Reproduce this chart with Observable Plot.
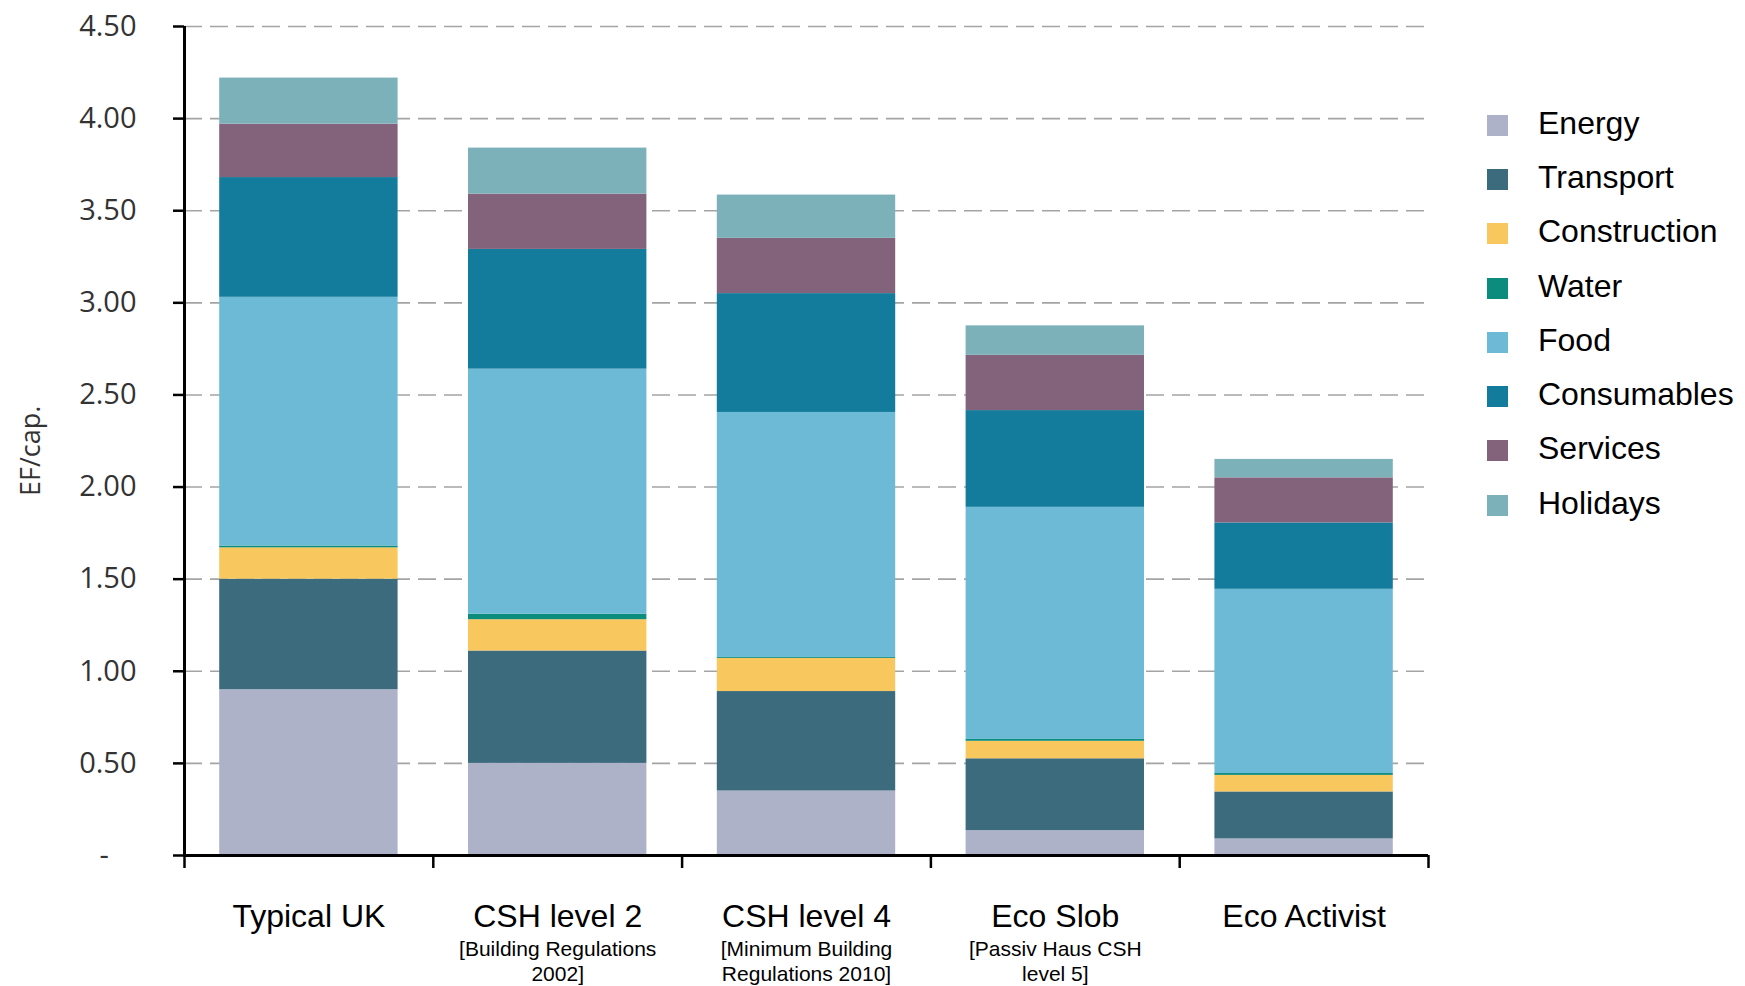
<!DOCTYPE html>
<html>
<head>
<meta charset="utf-8">
<script src="https://cdn.jsdelivr.net/npm/d3@7"></script>
<script src="https://cdn.jsdelivr.net/npm/@observablehq/plot@0.6"></script>
<style>
  html, body { margin: 0; padding: 0; background: white; }
  #wrap { position: relative; width: 1745px; height: 986px; }
  #legend { position: absolute; left: 1487px; top: 96px; font-family: "Liberation Sans", Arial, sans-serif; font-size: 32px; color: #000; }
  .row { display: flex; align-items: center; height: 54.3px; }
  .sw { width: 21px; height: 21px; margin-right: 30px; position: relative; top: 2px; }
</style>
</head>
<body>
<div id="wrap"><div id="legend"></div></div>
<script>
const categories = ["Typical UK", "CSH level 2", "CSH level 4", "Eco Slob", "Eco Activist"];
const subLabels = ["", "[Building Regulations\n2002]", "[Minimum Building\nRegulations 2010]", "[Passiv Haus CSH\nlevel 5]", ""];
const series = ["Energy", "Transport", "Construction", "Water", "Food", "Consumables", "Services", "Holidays"];
const colors = ["#adb2c9", "#3b6b7c", "#f8c85f", "#0c8c7c", "#6cbad6", "#137b9b", "#83637b", "#7db1ba"];

const energy       = [0.90, 0.50, 0.35, 0.135, 0.09];
const transport    = [0.60, 0.61, 0.54, 0.39, 0.255];
const construction = [0.17, 0.17, 0.18, 0.095, 0.09];
const water        = [0.01, 0.03, 0.005, 0.01, 0.01];
const food         = [1.35, 1.33, 1.33, 1.26, 1.00];
const consumables  = [0.65, 0.65, 0.645, 0.525, 0.36];
const services     = [0.29, 0.30, 0.30, 0.30, 0.245];
const holidays     = [0.25, 0.25, 0.235, 0.16, 0.10];

const yTicks = [0, 0.5, 1, 1.5, 2, 2.5, 3, 3.5, 4, 4.5];
const yLabel = "EF/cap.";

const valuesBySeries = [energy, transport, construction, water, food, consumables, services, holidays];

// Stack rows (bottom to top in series order)
const rows = [];
categories.forEach((cat, i) => {
  let base = 0;
  series.forEach((s, j) => {
    const v = valuesBySeries[j][i];
    rows.push({cat, i, series: s, y1: base, y2: base + v});
    base += v;
  });
});

const halfBar = 0.3585; // bar half-width in category units
const boundaries = d3.range(categories.length + 1);

const plot = Plot.plot({
  width: 1745,
  height: 986,
  marginTop: 26,
  marginBottom: 131,
  marginLeft: 184,
  marginRight: 317,
  x: {domain: [0, categories.length], axis: null},
  y: {domain: [0, 4.5], axis: null},
  color: {domain: series, range: colors},
  style: {background: "white", fontFamily: "'Open Sans', sans-serif"},
  marks: [
    Plot.gridY(yTicks.filter(t => t > 0), {stroke: "#a4a4a4", strokeOpacity: 1, strokeWidth: 1.6, strokeDasharray: "18,8"}),
    Plot.rect(rows, {x1: d => d.i + 0.5 - halfBar, x2: d => d.i + 0.5 + halfBar, y1: "y1", y2: "y2", fill: "series"}),
    Plot.ruleY([0], {stroke: "black", strokeWidth: 3}),
    Plot.ruleX([0], {y1: 0, y2: 4.5, stroke: "black", strokeWidth: 3}),
    Plot.axisX(boundaries, {tickSize: 13, tickFormat: () => "", stroke: "black", strokeWidth: 2.5, label: null}),
    Plot.axisY(yTicks, {tickSize: 11, tickPadding: 37, tickFormat: d => d === 0 ? "" : d.toFixed(2), fontSize: 29, fill: "#333", stroke: "black", strokeWidth: 2.5, label: null}),
    Plot.text([0], {y: d => d, frameAnchor: "left", dx: -85, text: () => "-", fontSize: 29, fill: "#333"}),
    Plot.text([yLabel], {frameAnchor: "left", dx: -153, dy: 55, rotate: -90, text: d => d, fontSize: 27, fill: "#333"}),
    Plot.text(categories, {x: (d, i) => i + 0.5, y: () => 0, text: d => d, dy: 61, fontSize: 32, fontFamily: "'Liberation Sans', Arial, sans-serif", fill: "black"}),
    Plot.text(subLabels, {x: (d, i) => i + 0.5, y: () => 0, text: d => d, dy: 105, fontSize: 21, lineHeight: 1.2, fontFamily: "'Liberation Sans', Arial, sans-serif", fill: "black"})
  ]
});
document.getElementById("wrap").prepend(plot);

const legend = document.getElementById("legend");
series.forEach((s, j) => {
  const row = document.createElement("div");
  row.className = "row";
  const sw = document.createElement("div");
  sw.className = "sw";
  sw.style.background = colors[j];
  const t = document.createElement("span");
  t.textContent = s;
  row.appendChild(sw);
  row.appendChild(t);
  legend.appendChild(row);
});
</script>
</body>
</html>
